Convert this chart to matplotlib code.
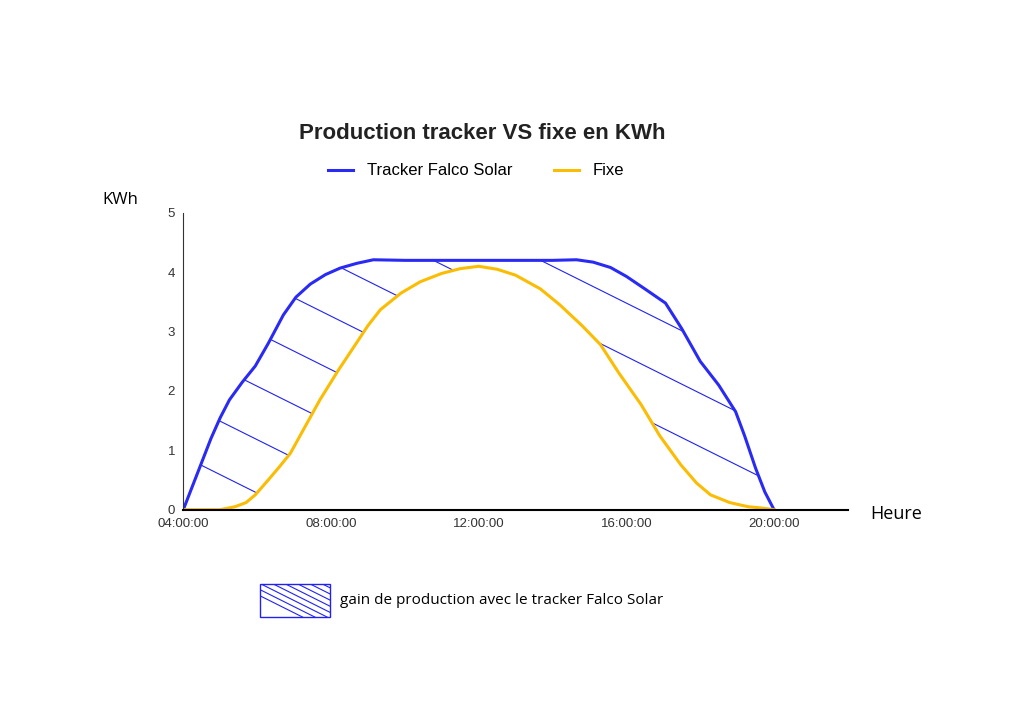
import matplotlib
matplotlib.use("Agg")
import matplotlib.pyplot as plt
import numpy as np
from matplotlib.patches import Rectangle
from matplotlib.lines import Line2D

tracker_h = [4.0, 4.25, 4.5, 4.75, 5.0, 5.25, 5.6, 5.95, 6.3, 6.71, 7.05, 7.44, 7.85, 8.25, 8.7, 9.15, 10, 11, 12, 13, 14, 14.65, 15.1, 15.57, 16.0, 16.5, 17.06, 17.5, 18.0, 18.5, 18.96, 19.2, 19.5, 19.75, 20.0]
tracker_v = [0.0, 0.4, 0.8, 1.2, 1.55, 1.85, 2.15, 2.42, 2.8, 3.28, 3.58, 3.8, 3.96, 4.07, 4.15, 4.21, 4.2, 4.2, 4.2, 4.2, 4.2, 4.21, 4.17, 4.08, 3.93, 3.72, 3.48, 3.05, 2.5, 2.1, 1.65, 1.25, 0.7, 0.3, 0.0]
fixe_h = [4.0, 5.0, 5.4, 5.7, 5.95, 6.3, 6.6, 6.9, 7.3, 7.7, 8.2, 8.66, 9.0, 9.34, 9.9, 10.42, 11.0, 11.5, 12.0, 12.5, 13.0, 13.67, 14.2, 14.8, 15.3, 15.8, 16.4, 16.9, 17.47, 17.9, 18.28, 18.8, 19.3, 19.64, 20.0]
fixe_v = [0.0, 0.0, 0.05, 0.12, 0.25, 0.5, 0.72, 0.95, 1.4, 1.85, 2.35, 2.78, 3.1, 3.37, 3.65, 3.84, 3.98, 4.06, 4.1, 4.05, 3.95, 3.72, 3.45, 3.1, 2.78, 2.3, 1.77, 1.25, 0.76, 0.45, 0.25, 0.12, 0.05, 0.03, 0.0]
xticks = [4, 8, 12, 16, 20]
xticklabels = ["04:00:00", "08:00:00", "12:00:00", "16:00:00", "20:00:00"]

plt.rcParams['font.family'] = ['Liberation Sans', 'DejaVu Sans']
fig = plt.figure(figsize=(10.24, 7.24), dpi=100)
ax = fig.add_axes([0.179, 0.296, 0.649, 0.41])

grid = np.linspace(4, 20, 400)
ti = np.interp(grid, tracker_h, tracker_v)
fi = np.interp(grid, fixe_h, fixe_v)
poly = ax.fill_between(grid, fi, ti, facecolor='none', linewidth=0)
# custom shallow hatch lines clipped to the gain area
slope = -0.31
hx = np.array([4.0, 22.0])
for c in np.arange(0.0, 12.0, 0.9):
    ln, = ax.plot(hx, c + slope * (hx - 4), color='#2222ee', lw=0.8)
    ln.set_clip_path(poly.get_paths()[0], ax.transData)
ax.plot(tracker_h, tracker_v, color='#2a2af5', lw=2.2, label='Tracker Falco Solar', solid_joinstyle='round')
ax.plot(fixe_h, fixe_v, color='#fbbc04', lw=2.2, label='Fixe', solid_joinstyle='round')

ax.set_xlim(4, 22)
ax.set_ylim(0, 5)
ax.set_xticks(xticks)
ax.set_xticklabels(xticklabels, fontsize=9.5, color='#333333')
ax.set_yticks(range(6))
ax.tick_params(axis='y', labelsize=9.5, colors='#333333', length=0, pad=6)
ax.tick_params(axis='x', length=0, pad=6)
for s in ['top', 'right']:
    ax.spines[s].set_visible(False)
ax.spines['bottom'].set_linewidth(1.5)
ax.spines['left'].set_linewidth(0.8)
ax.spines['left'].set_color('#333333')

fig.text(0.471, 0.816, "Production tracker VS fixe en KWh", ha='center', va='center', fontsize=16, fontweight='bold', color='#222222')
fig.legend(loc='center', bbox_to_anchor=(0.465, 0.764), ncol=2, frameon=False, fontsize=12, handlelength=1.5, columnspacing=2.5)
fig.text(0.10, 0.718, "KWh", fontsize=12, family=['Open Sans', 'DejaVu Sans'])
fig.text(0.85, 0.283, "Heure", fontsize=13, family=['Open Sans', 'DejaVu Sans'])

rect = Rectangle((0.254, 0.148), 0.068, 0.046, transform=fig.transFigure, facecolor='none', edgecolor='#2222ee', linewidth=1)
fig.patches.append(rect)
for k in range(-2, 12):
    x0 = 0.254 + k * 0.012
    ln = Line2D([x0, x0 + 0.09], [0.194, 0.194 - 0.09 * 0.5 * 1024 / 724], transform=fig.transFigure, color='#2222ee', lw=0.8)
    ln.set_clip_path(rect)
    fig.lines.append(ln)
fig.text(0.332, 0.171, "gain de production avec le tracker Falco Solar", fontsize=11, va='center', family=['Open Sans', 'DejaVu Sans'])

fig.savefig("out.png", dpi=100)
